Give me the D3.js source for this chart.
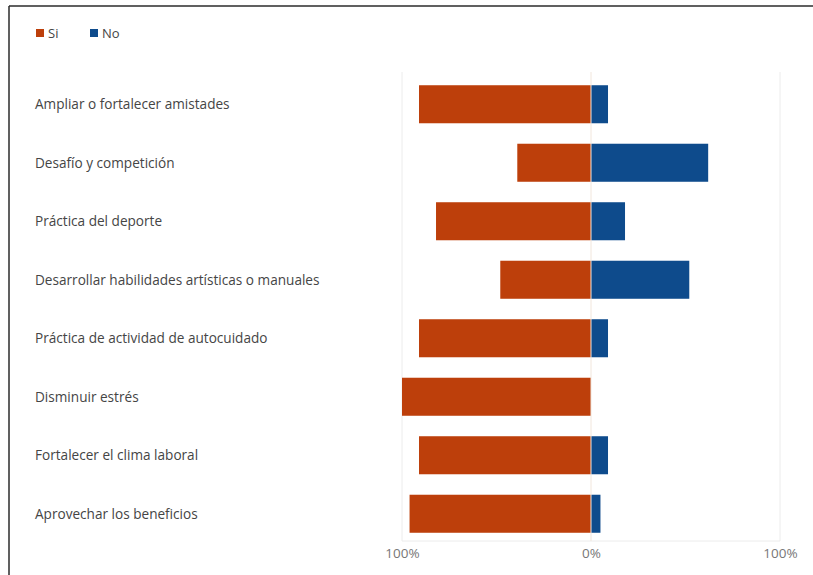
<!DOCTYPE html>
<html>
<head>
<meta charset="utf-8">
<script src="https://cdn.jsdelivr.net/npm/d3@7"></script>
<style>
  html, body { margin: 0; padding: 0; background: #fff; }
  svg { display: block; }
  text { font-family: "Open Sans", "Noto Sans", sans-serif; }
</style>
</head>
<body>
<svg id="chart" width="813" height="575"></svg>
<script>
const categories = [
  "Ampliar o fortalecer amistades",
  "Desafío y competición",
  "Práctica del deporte",
  "Desarrollar habilidades artísticas o manuales",
  "Práctica de actividad de autocuidado",
  "Disminuir estrés",
  "Fortalecer el clima laboral",
  "Aprovechar los beneficios"
];
const siValues = [0.91, 0.39, 0.82, 0.48, 0.91, 1.00, 0.91, 0.96];
const noValues = [0.09, 0.62, 0.18, 0.52, 0.09, 0.00, 0.09, 0.05];
const seriesNames = ["Si", "No"];
const tickValues = [-1, 0, 1];
const tickLabels = ["100%", "0%", "100%"];

const colors = { Si: "#BD3F0B", No: "#0E4B8C" };

const svg = d3.select("#chart");

// outer frame (top & left visible)
svg.append("line").attr("x1", 9).attr("y1", 6).attr("x2", 813).attr("y2", 6)
  .attr("stroke", "#2b2b2b").attr("stroke-width", 1.5);
svg.append("line").attr("x1", 9).attr("y1", 6).attr("x2", 9).attr("y2", 575)
  .attr("stroke", "#2b2b2b").attr("stroke-width", 1.5);

const x = d3.scaleLinear().domain([-1, 1]).range([402, 780]);
const y = d3.scaleBand().domain(categories).range([75, 543]).paddingInner(0.35).paddingOuter(0.175);

// gridlines
const grid = svg.append("g");
grid.selectAll("line.v").data(tickValues.filter(d => d !== 0)).join("line")
  .attr("x1", d => x(d)).attr("x2", d => x(d))
  .attr("y1", 72).attr("y2", 541)
  .attr("stroke", "#ececec").attr("stroke-width", 1);
grid.append("line").attr("x1", x(-1)).attr("x2", x(1)).attr("y1", 541).attr("y2", 541)
  .attr("stroke", "#ececec").attr("stroke-width", 1);

// bars
const rows = categories.map((c, i) => ({ c, si: siValues[i], no: noValues[i] }));
svg.append("g").selectAll("rect.si").data(rows).join("rect")
  .attr("x", d => x(-d.si)).attr("width", d => x(0) - x(-d.si))
  .attr("y", d => y(d.c)).attr("height", y.bandwidth())
  .attr("fill", colors.Si);
svg.append("g").selectAll("rect.no").data(rows).join("rect")
  .attr("x", x(0)).attr("width", d => x(d.no) - x(0))
  .attr("y", d => y(d.c)).attr("height", y.bandwidth())
  .attr("fill", colors.No);

// zero line on top
svg.append("line").attr("x1", x(0)).attr("x2", x(0)).attr("y1", 72).attr("y2", 541)
  .attr("stroke", "#f1e6dc").attr("stroke-width", 1);

// category labels
svg.append("g").selectAll("text").data(categories).join("text")
  .attr("x", 35).attr("y", d => y(d) + y.bandwidth() / 2)
  .attr("dy", "0.35em")
  .attr("font-size", 13.6).attr("fill", "#454545")
  .text(d => d);

// axis tick labels
const axis = d3.axisBottom(x).tickValues(tickValues)
  .tickFormat((d, i) => tickLabels[i]).tickSize(0).tickPadding(7);
const ag = svg.append("g").attr("transform", "translate(0,541)").call(axis);
ag.select(".domain").remove();
ag.selectAll("text").attr("font-size", 13.5).attr("fill", "#777")
  .attr("font-family", "'Open Sans', 'Noto Sans', sans-serif");

// legend
const legend = svg.append("g");
const legX = [36, 90];
seriesNames.forEach((s, i) => {
  legend.append("rect").attr("x", legX[i]).attr("y", 29).attr("width", 8).attr("height", 8)
    .attr("fill", colors[s]);
  legend.append("text").attr("x", legX[i] + 12).attr("y", 33).attr("dy", "0.35em")
    .attr("font-size", 13).attr("fill", "#454545").text(s);
});
</script>
</body>
</html>
